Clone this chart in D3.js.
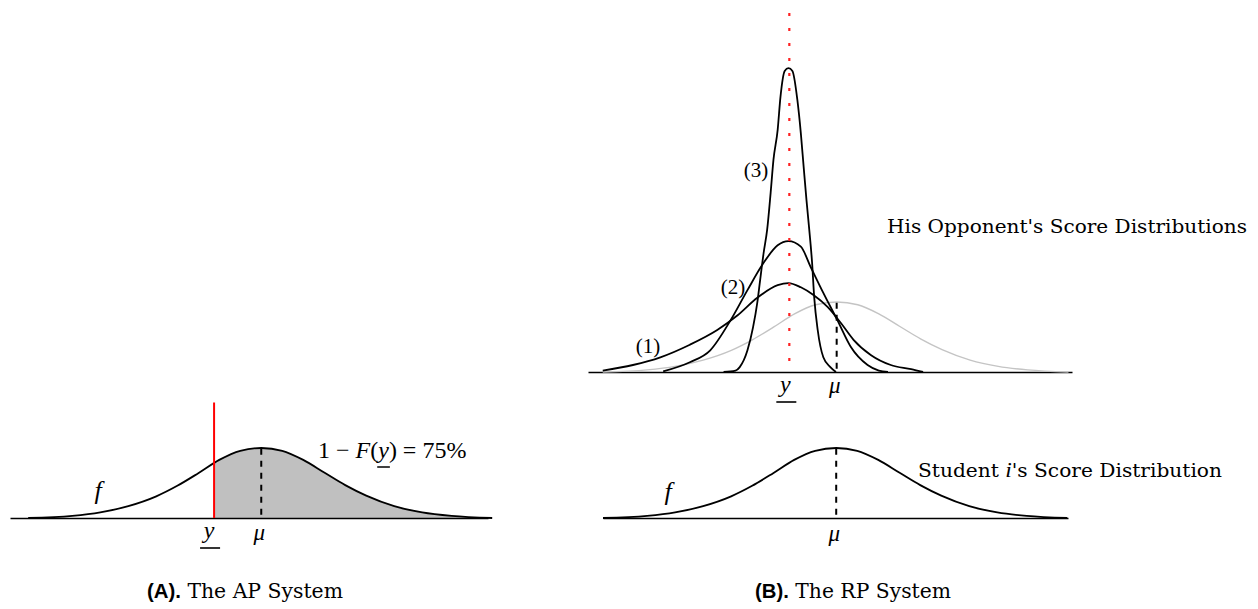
<!DOCTYPE html>
<html><head><meta charset="utf-8">
<script src="https://cdn.jsdelivr.net/npm/d3@7"></script>
<style>body{margin:0;background:#fff} svg{display:block}</style>
</head><body>
<svg id="chart" width="1258" height="609"></svg>
<script>
// Standardized score (z, student's sd units) and relative density
const studentZ = [-3.33,-2.7,-2.3,-1.9,-1.5,-1.2,-0.9,-0.6,-0.3,0,0.3,0.6,0.9,1.2,1.5,1.9,2.3,2.72,3.3];
const studentD = [0,0.03,0.08,0.17,0.31,0.46,0.64,0.83,0.96,1.0,0.96,0.83,0.65,0.47,0.32,0.17,0.08,0.03,0];
const opp1Z = [-3.33,-2.9,-2.51,-2.09,-1.7,-1.41,-1.13,-0.84,-0.686,-0.51,-0.33,-0.13,0.06,0.24,0.49,0.77,1.06,1.23];
const opp1D = [0.02,0.1,0.21,0.39,0.6,0.81,1.06,1.24,1.27,1.21,1.1,0.93,0.7,0.46,0.24,0.1,0.04,0];
const opp2Z = [-2.47,-2.09,-1.8,-1.51,-1.27,-1.04,-0.84,-0.686,-0.51,-0.37,-0.19,0.01,0.2,0.44,0.6,0.73];
const opp2D = [0.01,0.14,0.31,0.74,1.17,1.56,1.81,1.87,1.79,1.5,1.13,0.74,0.36,0.1,0.02,0];
const opp3Z = [-1.61,-1.44,-1.38,-1.27,-1.19,-1.13,-1.09,-1.04,-0.99,-0.94,-0.9,-0.84,-0.8,-0.74,-0.686,-0.63,-0.56,-0.51,-0.47,-0.43,-0.39,-0.35,-0.32,-0.27,-0.19,-0.09,-0.01];
const opp3D = [0,0.02,0.07,0.31,0.64,0.99,1.31,1.7,2.03,2.56,3.03,3.46,3.93,4.3,4.34,4.3,3.89,3.41,2.93,2.46,2.03,1.56,1.07,0.6,0.21,0.07,0];
const cutoffZ = -0.674;          // y underbar: 1 - F(y) = 75%
const curveLabels = ["(1)", "(2)", "(3)"];
const eqText = ["1 \u2212 ", "F", "(", "y", ") = 75%"];
const opponentLabel = "His Opponent's Score Distributions";
const studentLabel = ["Student ", "i", "'s Score Distribution"];
const titleA = ["(A).", " The AP System"];
const titleB = ["(B).", " The RP System"];

const zip = (zs, ds) => zs.map((z, i) => ({z, d: ds[i]}));
const student = zip(studentZ, studentD);
const opps = [zip(opp1Z, opp1D), zip(opp2Z, opp2D), zip(opp3Z, opp3D)];

const svg = d3.select("#chart");
const SERIF = "'DejaVu Serif', serif";
const MATH = "'Liberation Serif', 'Times New Roman', serif";

// scales for the three panels
const xA = d3.scaleLinear().domain([-3.59, 3.24]).range([10, 488]);
const yA = d3.scaleLinear().domain([0, 1]).range([518, 448]);
const xT = d3.scaleLinear().domain([-3.54, 3.35]).range([588, 1072]);
const yT = d3.scaleLinear().domain([0, 1]).range([372, 302]);
const xB = d3.scaleLinear().domain([-3.33, 3.31]).range([603, 1068]);
const yB = d3.scaleLinear().domain([0, 1]).range([518, 448]);

function axis(x, y) {
  const g = svg.append("g").attr("transform", `translate(0,${y(0)})`)
    .call(d3.axisBottom(x).tickValues([]).tickSizeOuter(0));
  g.select(".domain").attr("stroke", "#000").attr("stroke-width", 1.4);
}
const lineFn = (x, y) => d3.line().x(p => x(p.z)).y(p => y(p.d)).curve(d3.curveMonotoneX);

// ---------- Panel A ----------
svg.append("clipPath").attr("id", "clipA").append("rect")
  .attr("x", xA(cutoffZ)).attr("y", 0).attr("width", 600).attr("height", 609);
svg.append("path").datum(student)
  .attr("clip-path", "url(#clipA)")
  .attr("fill", "#c0c0c0")
  .attr("d", d3.area().x(p => xA(p.z)).y0(yA(0)).y1(p => yA(p.d)).curve(d3.curveMonotoneX));
axis(xA, yA);
svg.append("path").datum(student).attr("fill", "none").attr("stroke", "#000").attr("stroke-width", 1.8)
  .attr("d", lineFn(xA, yA));
svg.append("line").attr("x1", xA(0)).attr("x2", xA(0)).attr("y1", yA(0.99)).attr("y2", yA(0))
  .attr("stroke", "#000").attr("stroke-width", 2).attr("stroke-dasharray", "6,6");
svg.append("line").attr("x1", xA(cutoffZ)).attr("x2", xA(cutoffZ)).attr("y1", yA(1.65)).attr("y2", yA(0))
  .attr("stroke", "#ff0000").attr("stroke-width", 2);

function yUnder(x, yBase, size) {
  svg.append("text").attr("x", x).attr("y", yBase).attr("text-anchor", "middle")
    .attr("font-family", MATH).attr("font-style", "italic").attr("font-size", size).text("y");
  svg.append("line").attr("x1", x - 9).attr("x2", x + 11).attr("y1", yBase + 10).attr("y2", yBase + 10)
    .attr("stroke", "#000").attr("stroke-width", 1.6);
}
function muLabel(x, yBase) {
  svg.append("text").attr("x", x).attr("y", yBase).attr("text-anchor", "middle")
    .attr("font-family", MATH).attr("font-style", "italic").attr("font-size", 23).text("\u03bc");
}
function fLabel(x, yBase) {
  svg.append("text").attr("x", x).attr("y", yBase).attr("text-anchor", "middle")
    .attr("font-family", MATH).attr("font-style", "italic").attr("font-size", 26).text("f");
}
yUnder(xA(cutoffZ) - 5, 538, 24);
muLabel(xA(0) - 2, 540);
fLabel(98, 499);

// equation
const eq = svg.append("text").attr("x", 318).attr("y", 458)
  .attr("font-family", MATH).attr("font-size", 24);
eqText.forEach((t, i) => eq.append("tspan").attr("font-style", (i === 1 || i === 3) ? "italic" : "normal").text(t));
{
  const idx = eqText[0].length + eqText[1].length + eqText[2].length;
  const x0 = eq.node().getStartPositionOfChar(idx).x;
  const x1 = eq.node().getEndPositionOfChar(idx).x;
  svg.append("line").attr("x1", x0 - 1).attr("x2", x1 + 1)
    .attr("y1", 467).attr("y2", 467).attr("stroke", "#000").attr("stroke-width", 1.5);
}

// ---------- Panel B top ----------
axis(xT, yT);
svg.append("path").datum(student).attr("fill", "none").attr("stroke", "#c4c4c4").attr("stroke-width", 1.4)
  .attr("d", lineFn(xT, yT));
opps.forEach(o => {
  svg.append("path").datum(o).attr("fill", "none").attr("stroke", "#000").attr("stroke-width", 1.8)
    .attr("d", lineFn(xT, yT));
});
svg.append("line").attr("x1", xT(0)).attr("x2", xT(0)).attr("y1", yT(0.99)).attr("y2", yT(0))
  .attr("stroke", "#000").attr("stroke-width", 2).attr("stroke-dasharray", "6,6");
svg.append("line").attr("x1", xT(cutoffZ)).attr("x2", xT(cutoffZ)).attr("y1", yT(5.13)).attr("y2", yT(0))
  .attr("stroke", "#ff2020").attr("stroke-width", 2.2).attr("stroke-dasharray", "3,12");
yUnder(xT(cutoffZ) - 4, 392, 24);
muLabel(xT(0) - 2, 393);
const labPos = [[648, 353], [733, 294], [756, 177]];
curveLabels.forEach((t, i) => svg.append("text").attr("x", labPos[i][0]).attr("y", labPos[i][1])
  .attr("text-anchor", "middle").attr("font-family", MATH).attr("font-size", 21).text(t));
svg.append("text").attr("x", 887).attr("y", 233).attr("font-family", SERIF).attr("font-size", 19)
  .attr("textLength", 360).attr("lengthAdjust", "spacingAndGlyphs").text(opponentLabel);

// ---------- Panel B bottom ----------
axis(xB, yB);
svg.append("path").datum(student).attr("fill", "none").attr("stroke", "#000").attr("stroke-width", 1.8)
  .attr("d", lineFn(xB, yB));
svg.append("line").attr("x1", xB(0)).attr("x2", xB(0)).attr("y1", yB(0.99)).attr("y2", yB(0))
  .attr("stroke", "#000").attr("stroke-width", 2).attr("stroke-dasharray", "6,6");
muLabel(xB(0) - 2, 541);
fLabel(668, 500);
const st = svg.append("text").attr("x", 918).attr("y", 477).attr("font-family", SERIF).attr("font-size", 19)
  .attr("textLength", 304).attr("lengthAdjust", "spacingAndGlyphs");
studentLabel.forEach((t, i) => st.append("tspan")
  .attr("font-family", i === 1 ? MATH : SERIF).attr("font-style", i === 1 ? "italic" : "normal")
  .attr("font-size", i === 1 ? 22 : 19).text(t));

// ---------- Titles ----------
function title(parts, x) {
  const t = svg.append("text").attr("x", x).attr("y", 598)
    .attr("textLength", 196).attr("lengthAdjust", "spacingAndGlyphs");
  t.append("tspan").attr("font-family", "'Liberation Sans', Arial, sans-serif").attr("font-weight", "bold")
    .attr("font-size", 20).text(parts[0]);
  t.append("tspan").attr("font-family", SERIF).attr("font-size", 20).text(parts[1]);
}
title(titleA, 147);
title(titleB, 755);
</script>
</body></html>
